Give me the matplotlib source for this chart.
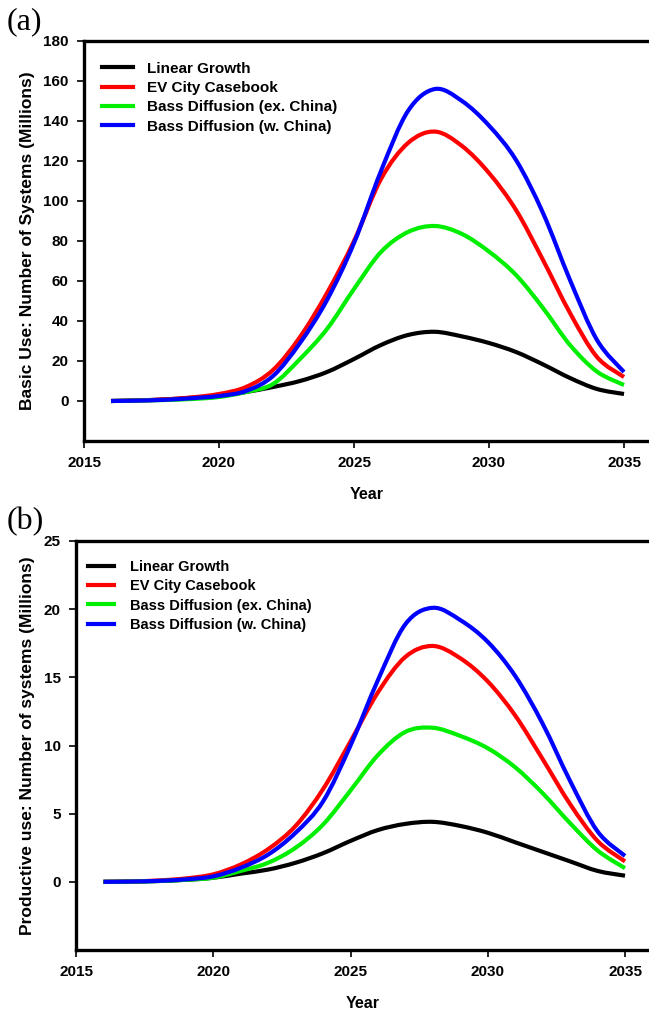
import matplotlib
matplotlib.use("Agg")
import matplotlib.pyplot as plt
from matplotlib.path import Path
from matplotlib.patches import PathPatch
from matplotlib.lines import Line2D

years = list(range(2016, 2036))

series_names = ["Linear Growth", "EV City Casebook",
                "Bass Diffusion (ex. China)", "Bass Diffusion (w. China)"]
series_colors = ["#000000", "#ff0000", "#00ee00", "#0000ff"]

# Panel (a): Basic use (millions)
basic_linear = [0, 0.3, 0.8, 1.6, 2.5, 4.5, 7, 10, 14.5, 21, 28, 33, 34.6,
                32.3, 29, 24.5, 18.3, 11.5, 6, 3.5]
basic_ev = [0, 0.3, 0.8, 1.8, 3.5, 7, 15.5, 32, 54, 80, 111, 129, 134.7,
            127.5, 114, 95.5, 70.5, 44, 22, 12]
basic_bass_ex = [0, 0.2, 0.5, 1.0, 2, 4.5, 8.5, 21, 36, 56, 74.5, 84.5, 87.5,
                 83.5, 74.7, 63, 46.5, 28, 14.7, 8]
basic_bass_w = [0, 0.2, 0.6, 1.4, 2.5, 5, 12.5, 29, 50.5, 79, 115, 145, 156,
                150, 137.7, 120.5, 94, 60.5, 30.5, 14.5]

# Panel (b): Productive use (millions)
prod_linear = [0, 0.02, 0.06, 0.15, 0.3, 0.6, 0.9, 1.4, 2.1, 3.0, 3.8, 4.25, 4.4,
               4.1, 3.6, 2.9, 2.2, 1.5, 0.8, 0.45]
prod_ev = [0, 0.03, 0.1, 0.25, 0.55, 1.27, 2.4, 4.1, 6.8, 10.3, 13.9, 16.5, 17.3,
           16.4, 14.7, 12.2, 9.0, 5.7, 3.0, 1.5]
prod_bass_ex = [0, 0.02, 0.06, 0.15, 0.3, 0.8, 1.4, 2.5, 4.2, 6.7, 9.3, 11.0, 11.3,
                10.7, 9.8, 8.4, 6.5, 4.3, 2.3, 1.0]
prod_bass_w = [0, 0.02, 0.07, 0.18, 0.4, 1.03, 2.0, 3.6, 5.9, 10.0, 14.8, 18.9, 20.1,
               19.2, 17.6, 15.1, 11.6, 7.4, 3.7, 1.9]

x_ticks = [2015, 2020, 2025, 2030, 2035]
basic_yticks = [0, 20, 40, 60, 80, 100, 120, 140, 160, 180]
prod_yticks = [0, 5, 10, 15, 20, 25]

plt.rcParams['font.family'] = ['Liberation Sans', 'DejaVu Sans']
plt.rcParams['font.weight'] = 'bold'

W, H = 649, 1014
fig = plt.figure(figsize=(W / 100, H / 100), dpi=100)


def make_axes(left_px, top_px, bottom_px):
    return fig.add_axes([left_px / W, 1 - bottom_px / H,
                         1 - left_px / W, (bottom_px - top_px) / H])


def smooth_path(xs, ys):
    """Smooth curve through the data points (Catmull-Rom drawn as Bezier)."""
    n = len(xs)
    verts = [(xs[0], ys[0])]
    codes = [Path.MOVETO]
    for i in range(n - 1):
        x0, y0 = (xs[i - 1], ys[i - 1]) if i > 0 else (xs[i], ys[i])
        x1, y1 = xs[i], ys[i]
        x2, y2 = xs[i + 1], ys[i + 1]
        x3, y3 = (xs[i + 2], ys[i + 2]) if i + 2 < n else (xs[i + 1], ys[i + 1])
        c1 = (x1 + (x2 - x0) / 6.0, y1 + (y2 - y0) / 6.0)
        c2 = (x2 - (x3 - x1) / 6.0, y2 - (y3 - y1) / 6.0)
        verts += [c1, c2, (x2, y2)]
        codes += [Path.CURVE4] * 3
    return Path(verts, codes)


ax1 = make_axes(84, 41, 441)
ax2 = make_axes(76, 541, 950)


def style(ax, data, xmax, ylim, yticks, ylabel, leg_anchor, legsize,
          hlen, hpad):
    for name, color, vals in zip(series_names, series_colors, data):
        patch = PathPatch(smooth_path(years, vals), facecolor='none',
                          edgecolor=color, lw=3.0, capstyle='butt',
                          joinstyle='round')
        ax.add_patch(patch)
    ax.set_xlim(2015, xmax)
    ax.set_ylim(*ylim)
    ax.set_xticks(x_ticks)
    ax.set_yticks(yticks)
    for s in ['left', 'bottom', 'top']:
        ax.spines[s].set_linewidth(2.4)
    ax.spines['right'].set_visible(False)
    ax.tick_params(direction='out', length=5, width=1.2, labelsize=11, pad=6)
    for lab in ax.get_xticklabels() + ax.get_yticklabels():
        lab.set_fontweight('bold')
    ax.set_xlabel("Year", fontsize=11.5, fontweight='bold', labelpad=12)
    ax.set_ylabel(ylabel, fontsize=12.5, fontweight='bold', labelpad=6)
    handles = [Line2D([], [], color=c, lw=3.0) for c in series_colors]
    ax.legend(handles, series_names, loc='upper left', bbox_to_anchor=leg_anchor,
              frameon=False, prop={'weight': 'bold', 'size': legsize},
              handlelength=hlen, handletextpad=hpad, labelspacing=0.35,
              borderaxespad=0)


style(ax1, [basic_linear, basic_ev, basic_bass_ex, basic_bass_w],
      2015 + (649 - 84) / 27.0, (-20, 180), basic_yticks,
      "Basic Use: Number of Systems (Millions)", (0.021, 0.964), 11,
      2.0, 0.95)
style(ax2, [prod_linear, prod_ev, prod_bass_ex, prod_bass_w],
      2015 + (649 - 76) / 27.45, (-5, 25), prod_yticks,
      "Productive use: Number of systems (Millions)", (0.011, 0.967), 10.5,
      1.75, 1.1)

fig.text(7 / W, 1 - 22 / H, "(a)", family='Liberation Serif', fontweight='normal',
         fontsize=23, va='center', ha='left')
fig.text(7 / W, 1 - 522 / H, "(b)", family='Liberation Serif', fontweight='normal',
         fontsize=23, va='center', ha='left')

fig.savefig("out.png", dpi=100)
